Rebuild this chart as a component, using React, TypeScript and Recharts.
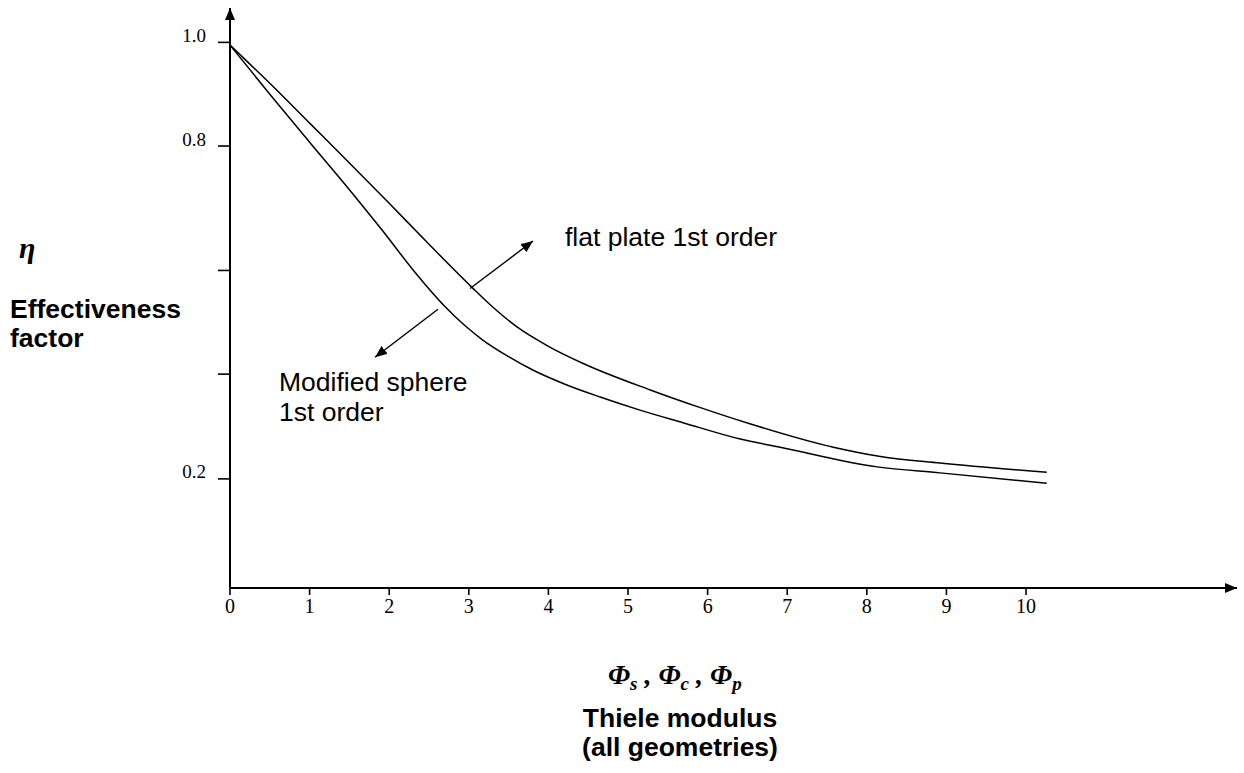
import React from "react";
import { LineChart, Line, XAxis, YAxis, ReferenceLine } from "recharts";

// Thiele modulus ticks (0..10) and the effectiveness-factor ticks as drawn
const xTicks = [0, 1, 2, 3, 4, 5, 6, 7, 8, 9, 10];
const yTicks = [0.2, 0.392, 0.582, 0.81, 1.0];
const yTickLabels = ["0.2", "", "", "0.8", "1.0"];

// flat plate, 1st order
const flatPhi = [0, 0.5, 1.0, 1.5, 2.0, 2.5, 3.04, 3.3, 3.61, 4.0, 4.43, 5.28, 5.9, 6.53, 7.58, 8.17, 8.92, 10.26];
const flatEta = [0.995, 0.925, 0.852, 0.779, 0.705, 0.63, 0.551, 0.515, 0.478, 0.443, 0.412, 0.363, 0.331, 0.301, 0.258, 0.241, 0.229, 0.212];

// modified sphere, 1st order
const spherePhi = [0, 0.5, 1.0, 1.5, 1.91, 2.3, 2.7, 2.95, 3.18, 3.5, 3.81, 4.2, 4.65, 5.15, 5.69, 6.41, 6.91, 8.13, 8.92, 10.26];
const sphereEta = [0.995, 0.905, 0.817, 0.73, 0.656, 0.583, 0.516, 0.481, 0.454, 0.424, 0.399, 0.374, 0.35, 0.326, 0.303, 0.273, 0.258, 0.222, 0.211, 0.192];

// annotation arrows (from curve out to label)
const flatArrow = [
  { x: 3.015, y: 0.549 },
  { x: 3.806, y: 0.636 },
];
const sphereArrow = [
  { x: 2.613, y: 0.511 },
  { x: 1.822, y: 0.423 },
];

const flatData = flatPhi.map((phi, i) => ({ phi, eta: flatEta[i] }));
const sphereData = spherePhi.map((phi, i) => ({ phi, eta: sphereEta[i] }));

const W = 1244;
const H = 773;
const serif = "'Liberation Serif', 'Times New Roman', serif";
const sans = "'Liberation Sans', Arial, sans-serif";

const YTick = (p: any) => (
  <text x={p.x} y={p.y - 7} textAnchor="end" dominantBaseline="central" fontFamily={serif} fontSize={19} fill="#000">
    {yTickLabels[p.index]}
  </text>
);

const XTick = (p: any) => (
  <text x={p.x} y={p.y + 13} textAnchor="middle" fontFamily={serif} fontSize={20} fill="#000">
    {p.payload.value}
  </text>
);

const arrowShape = (p: any) => (
  <line x1={p.x1} y1={p.y1} x2={p.x2} y2={p.y2} stroke="#000" strokeWidth={1.4} markerEnd="url(#noteHead)" />
);

export default function App() {
  return (
    <div style={{ position: "absolute", left: 0, top: 0, width: W, height: H, background: "#fff" }}>
      <svg width={0} height={0} style={{ position: "absolute" }}>
        <defs>
          <marker id="axisHead" viewBox="0 0 12 10" refX={12} refY={5} markerWidth={12} markerHeight={10} markerUnits="userSpaceOnUse" orient="auto-start-reverse">
            <path d="M0,0 L12,5 L0,10 z" fill="#000" />
          </marker>
          <marker id="noteHead" viewBox="0 0 12 10" refX={12} refY={5} markerWidth={12} markerHeight={10} markerUnits="userSpaceOnUse" orient="auto">
            <path d="M0,0 L12,5 L0,10 z" fill="#000" />
          </marker>
        </defs>
      </svg>

      <LineChart width={W} height={H} margin={{ top: 8, right: 7, left: 130, bottom: 145 }}>
        <XAxis
          type="number"
          dataKey="phi"
          domain={[0, 12.65]}
          ticks={xTicks}
          interval={0}
          allowDataOverflow
          height={40}
          tickSize={7}
          tickMargin={5}
          tick={<XTick />}
          axisLine={{ stroke: "#000", strokeWidth: 2, markerEnd: "url(#axisHead)" }}
          tickLine={{ stroke: "#000", strokeWidth: 1.6 }}
        />
        <YAxis
          type="number"
          dataKey="eta"
          domain={[0, 1.063]}
          ticks={yTicks}
          interval={0}
          allowDataOverflow
          width={100}
          tickSize={12}
          tickMargin={12}
          tick={<YTick />}
          axisLine={{ stroke: "#000", strokeWidth: 2, markerStart: "url(#axisHead)" }}
          tickLine={{ stroke: "#000", strokeWidth: 1.6 }}
        />
        <Line data={flatData} dataKey="eta" type="monotone" stroke="#000" strokeWidth={1.5} dot={false} isAnimationActive={false} />
        <Line data={sphereData} dataKey="eta" type="monotone" stroke="#000" strokeWidth={1.5} dot={false} isAnimationActive={false} />
        <ReferenceLine segment={flatArrow} shape={arrowShape} />
        <ReferenceLine segment={sphereArrow} shape={arrowShape} />
      </LineChart>

      <svg width={W} height={H} style={{ position: "absolute", left: 0, top: 0, pointerEvents: "none" }}>
        <text x={19} y={258} fontFamily={serif} fontStyle="italic" fontWeight="bold" fontSize={30}>η</text>
        <text x={10} y={318} fontFamily={sans} fontWeight="bold" fontSize={26.5}>Effectiveness</text>
        <text x={10} y={347} fontFamily={sans} fontWeight="bold" fontSize={26.5}>factor</text>

        <text x={565} y={246} fontFamily={sans} fontSize={26.5}>flat plate 1st order</text>
        <text x={279} y={391} fontFamily={sans} fontSize={26.5}>Modified sphere</text>
        <text x={279} y={421} fontFamily={sans} fontSize={26.5}>1st order</text>

        <text x={608} y={684} fontFamily={serif} fontStyle="italic" fontWeight="bold" fontSize={28}>
          Φ<tspan fontSize={19} dy={6}>s</tspan>
          <tspan dy={-6}> , Φ</tspan>
          <tspan fontSize={19} dy={6}>c</tspan>
          <tspan dy={-6}> , Φ</tspan>
          <tspan fontSize={19} dy={6}>p</tspan>
        </text>
        <text x={680} y={727} textAnchor="middle" fontFamily={sans} fontWeight="bold" fontSize={26.5}>Thiele modulus</text>
        <text x={680} y={756} textAnchor="middle" fontFamily={sans} fontWeight="bold" fontSize={26.5}>(all geometries)</text>
      </svg>
    </div>
  );
}
